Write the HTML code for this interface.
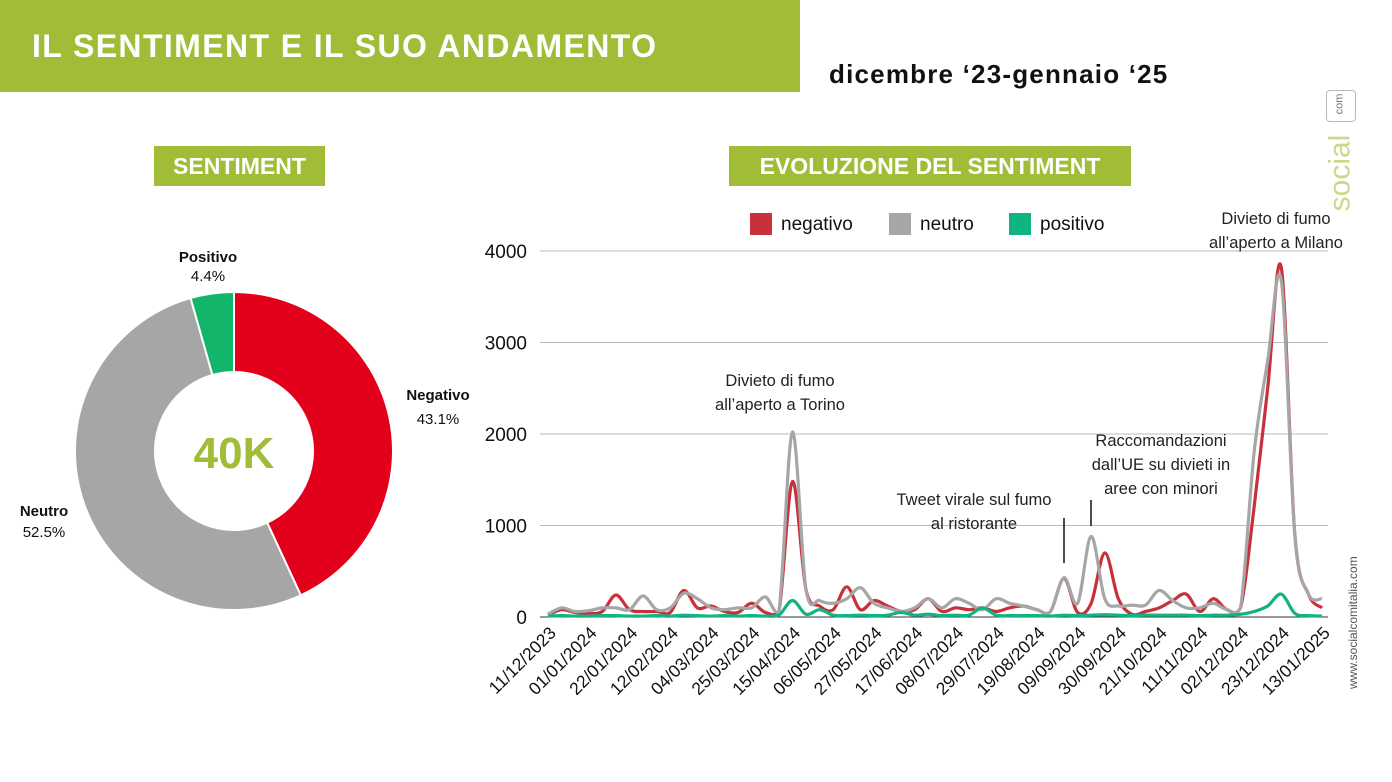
<!DOCTYPE html>
<html><head><meta charset="utf-8"><style>
body{margin:0;width:1392px;height:782px;background:#fff;overflow:hidden;position:relative;font-family:"Liberation Sans",sans-serif}
.abs{position:absolute}
</style></head><body>
<div class="abs" style="left:0;top:0;width:800px;height:92px;background:#a1bd38"></div>
<div class="abs" style="left:32px;top:28px;font-size:32px;font-weight:bold;color:#fff;letter-spacing:1.4px">IL SENTIMENT E IL SUO ANDAMENTO</div>
<div class="abs" style="left:829px;top:59px;font-size:26px;font-weight:bold;color:#111;letter-spacing:1.2px">dicembre ‘23-gennaio ‘25</div>
<div class="abs" style="left:154px;top:146px;width:171px;height:40px;background:#a1bd38;color:#fff;font-weight:bold;font-size:23px;line-height:40px;text-align:center">SENTIMENT</div>
<div class="abs" style="left:729px;top:146px;width:402px;height:40px;background:#a1bd38;color:#fff;font-weight:bold;font-size:23px;line-height:40px;text-align:center">EVOLUZIONE DEL SENTIMENT</div>
<div class="abs" style="left:1310px;top:90px;width:60px;height:120px">
<div style="position:absolute;left:16px;top:0;width:28px;height:30px;border:1.5px solid #bbb;border-radius:4px"></div>
<div style="position:absolute;left:19px;top:8px;font-size:11px;color:#777;transform:rotate(-90deg)">com</div>
<div style="position:absolute;left:-8px;top:66px;font-size:30px;color:#c8d98a;transform:rotate(-90deg)">social</div>
</div>
<div class="abs" style="left:1283px;top:612px;font-size:12px;color:#555;transform:rotate(-90deg);width:140px">www.socialcomitalia.com</div>

<svg class="abs" style="left:0;top:0" width="1392" height="782">
<g id="donut"></g>
<text x="234" y="468" text-anchor="middle" font-size="44" font-weight="bold" fill="#a1bd38">40K</text>
<text x="208" y="262" text-anchor="middle" font-size="15" fill="#111" font-weight="bold">Positivo</text>
<text x="208" y="281" text-anchor="middle" font-size="15" fill="#111">4.4%</text>
<text x="438" y="400" text-anchor="middle" font-size="15" fill="#111" font-weight="bold">Negativo</text>
<text x="438" y="424" text-anchor="middle" font-size="15" fill="#111">43.1%</text>
<text x="44" y="516" text-anchor="middle" font-size="15" fill="#111" font-weight="bold">Neutro</text>
<text x="44" y="537" text-anchor="middle" font-size="15" fill="#111">52.5%</text>
<g id="line"></g>
<g>
<rect x="750" y="213" width="22" height="22" fill="#c8303a"/>
<text x="781" y="230" font-size="19" fill="#111">negativo</text>
<rect x="889" y="213" width="22" height="22" fill="#a6a6a6"/>
<text x="920" y="230" font-size="19" fill="#111">neutro</text>
<rect x="1009" y="213" width="22" height="22" fill="#10b483"/>
<text x="1040" y="230" font-size="19" fill="#111">positivo</text>
</g>
<g font-size="16.5" fill="#222" text-anchor="middle">
<text x="780" y="386">Divieto di fumo</text>
<text x="780" y="410">all’aperto a Torino</text>
<text x="1276" y="224">Divieto di fumo</text>
<text x="1276" y="248">all’aperto a Milano</text>
<text x="974" y="505">Tweet virale sul fumo</text>
<text x="974" y="529">al ristorante</text>
<text x="1161" y="446">Raccomandazioni</text>
<text x="1161" y="470">dall’UE su divieti in</text>
<text x="1161" y="494">aree con minori</text>
</g>
<line x1="1064" y1="518" x2="1064" y2="563" stroke="#111" stroke-width="1.5"/>
<line x1="1091" y1="500" x2="1091" y2="526" stroke="#111" stroke-width="1.5"/>
</svg>
<script>
const sliceNames=["Negativo","Neutro","Positivo"];
const sliceValues=[43.1,52.5,4.4];
const sliceColors=["#e2001a","#a6a6a6","#13b56b"];
const dates=["11/12/2023","01/01/2024","22/01/2024","12/02/2024","04/03/2024","25/03/2024","15/04/2024","06/05/2024","27/05/2024","17/06/2024","08/07/2024","29/07/2024","19/08/2024","09/09/2024","30/09/2024","21/10/2024","11/11/2024","02/12/2024","23/12/2024","13/01/2025"];
const yTicks=[0,1000,2000,3000,4000];
const negativo=[20,80,50,40,60,240,80,60,60,50,290,100,120,60,50,150,50,60,1480,300,120,80,330,80,180,120,60,80,200,60,100,80,100,60,100,120,80,60,420,50,150,700,200,30,60,100,180,250,60,200,80,100,1200,2500,3820,900,250,100];
const neutro=[30,100,60,70,100,100,80,230,80,100,260,200,100,80,100,100,220,60,2020,300,180,150,200,320,150,100,60,100,200,100,200,150,80,200,150,120,80,60,430,150,880,200,120,130,130,290,180,100,100,150,80,100,1800,2800,3680,900,250,200];
const positivo=[10,15,10,10,15,15,10,10,15,10,20,15,10,15,10,15,10,20,180,30,80,20,15,20,15,20,50,20,30,15,20,20,100,20,15,15,15,10,20,15,20,25,20,15,20,20,20,20,15,20,20,30,60,120,250,40,15,10];
const NS="http://www.w3.org/2000/svg";
function mk(t,a,p){const e=document.createElementNS(NS,t);for(const k in a)e.setAttribute(k,a[k]);p.appendChild(e);return e;}
const dg=document.getElementById('donut');
const cx=234,cy=451,R=159,r=79;
let tot=sliceValues.reduce((a,b)=>a+b,0),ang=0;
sliceValues.forEach((v,i)=>{
 const a0=ang,a1=ang+v/tot*2*Math.PI;ang=a1;
 const p=(a,rr)=>[cx+rr*Math.sin(a),cy-rr*Math.cos(a)];
 const [x0,y0]=p(a0,R),[x1,y1]=p(a1,R),[x2,y2]=p(a1,r),[x3,y3]=p(a0,r);
 const lg=(a1-a0)>Math.PI?1:0;
 const e=mk('path',{d:`M${x0},${y0}A${R},${R} 0 ${lg} 1 ${x1},${y1}L${x2},${y2}A${r},${r} 0 ${lg} 0 ${x3},${y3}Z`,fill:sliceColors[i],stroke:'#fff','stroke-width':2},dg);
 
 
});
const lg=document.getElementById('line');
const X0=548,X1=1322,Y0=617,Y1=251,YMAX=4000;
const xs=i=>X0+(X1-X0)*i/(negativo.length-1);
const ys=v=>Y0-(Y0-Y1)*v/YMAX;
yTicks.forEach(t=>{
 const l=mk('line',{x1:540,x2:1328,y1:ys(t),y2:ys(t),stroke:t===0?'#333':'#bbb','stroke-width':1},lg);
 
 
 const tx=mk('text',{x:527,y:ys(t)+7,'text-anchor':'end','font-size':19,fill:'#111'},lg);
 tx.textContent=t;
 
 
});
dates.forEach((d,k)=>{
 const x=xs(k*3)+9,y=634;
 const tx=mk('text',{x:x,y:y,'text-anchor':'end','font-size':17.5,fill:'#111',transform:`rotate(-45 ${x} ${y})`},lg);
 tx.textContent=d;
 
 
});
function smooth(arr){
 const pts=arr.map((v,i)=>[xs(i),ys(Math.max(0,v))]);
 let d=`M${pts[0][0]},${pts[0][1]}`;
 for(let i=0;i<pts.length-1;i++){
  const p0=pts[i-1]||pts[i],p1=pts[i],p2=pts[i+1],p3=pts[i+2]||p2;
  const c1=[p1[0]+(p2[0]-p0[0])/6,p1[1]+(p2[1]-p0[1])/6],c2=[p2[0]-(p3[0]-p1[0])/6,p2[1]-(p3[1]-p1[1])/6];
  d+=`C${c1[0]},${Math.min(Y0,c1[1])} ${c2[0]},${Math.min(Y0,c2[1])} ${p2[0]},${p2[1]}`;
 }
 return d;
}
[[negativo,'#c8303a','line-negativo'],[neutro,'#a6a6a6','line-neutro'],[positivo,'#10b483','line-positivo']].forEach(([a,c,n])=>{
 const p=mk('path',{d:smooth(a),fill:'none',stroke:c,'stroke-width':3.2,'stroke-linejoin':'round'},lg);
 
 
});
</script>
</body></html>
